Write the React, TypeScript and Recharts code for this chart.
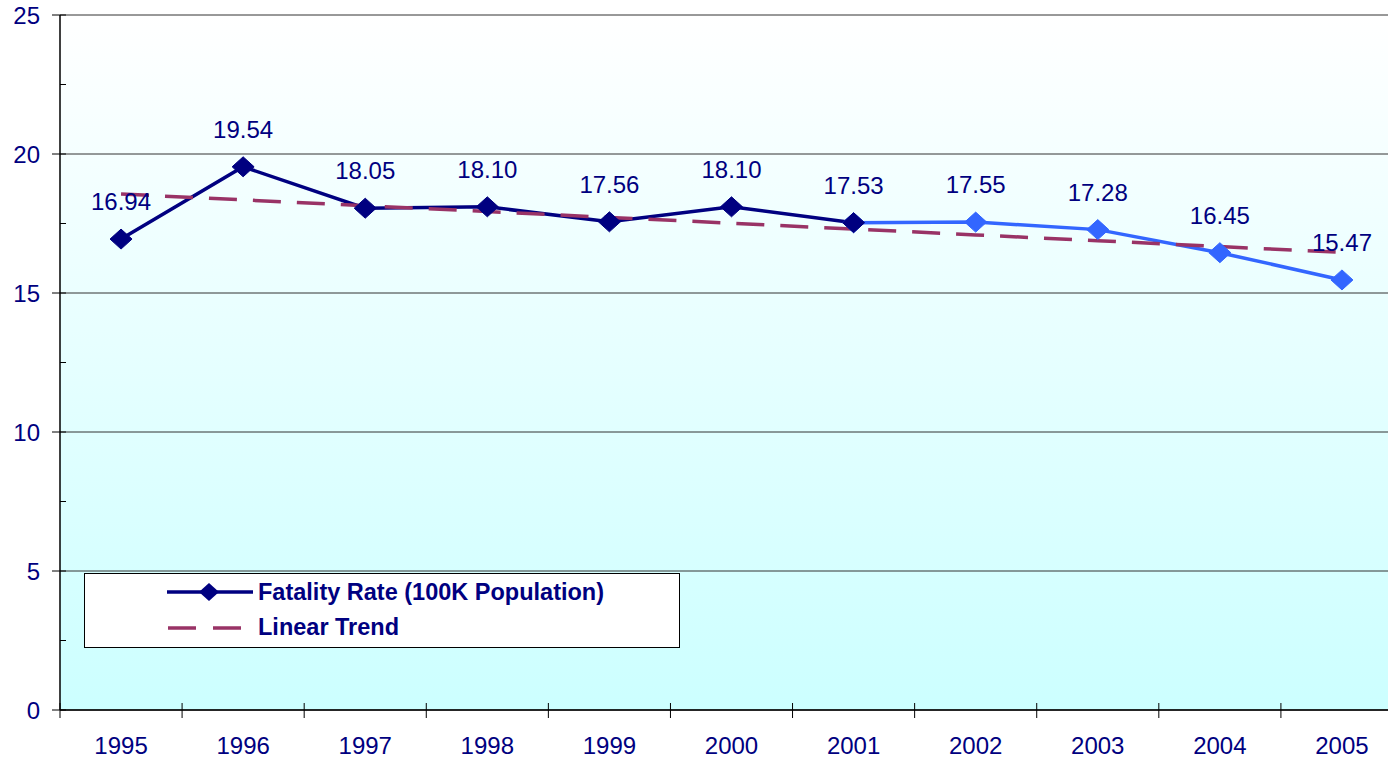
import React from 'react';
import { LineChart, Line, XAxis, YAxis, CartesianGrid, Legend, LabelList } from 'recharts';

const years = ['1995', '1996', '1997', '1998', '1999', '2000', '2001', '2002', '2003', '2004', '2005'];
const fatalityRate = [16.94, 19.54, 18.05, 18.1, 17.56, 18.1, 17.53, 17.55, 17.28, 16.45, 15.47];
const linearTrend = [18.56, 18.35, 18.14, 17.93, 17.72, 17.51, 17.3, 17.09, 16.88, 16.67, 16.46];
const splitYear = '2001';
const yMajorTicks = [0, 5, 10, 15, 20, 25];
const yMinorTicks = [2.5, 7.5, 12.5, 17.5, 22.5];

const NAVY = '#000080';
const LIGHT = '#3366FF';
const TREND = '#993366';
const FONT = '"Liberation Sans", Arial, sans-serif';

const splitIdx = years.indexOf(splitYear);
const data = years.map((year, i) => ({
  idx: i,
  year,
  rate: fatalityRate[i],
  early: i <= splitIdx ? fatalityRate[i] : null,
  late: i >= splitIdx ? fatalityRate[i] : null,
  trend: linearTrend[i],
}));

const xTicks: number[] = [];
years.forEach((_, i) => {
  xTicks.push(i - 0.5);
  xTicks.push(i);
});
xTicks.push(years.length - 0.5);

const yTicks = [...yMajorTicks, ...yMinorTicks].sort((a, b) => a - b);

const XTick = (props: any) => {
  const { x, y, payload } = props;
  const v = payload.value;
  if (Number.isInteger(v)) {
    return (
      <text x={x} y={y + 44} textAnchor="middle" fill={NAVY} fontSize={24} fontFamily={FONT}>
        {years[v]}
      </text>
    );
  }
  return <line x1={x} x2={x} y1={y - 7} y2={y + 8} stroke="#000" strokeWidth={1} />;
};

const YTick = (props: any) => {
  const { x, y, payload } = props;
  const v = payload.value;
  const major = yMajorTicks.includes(v);
  return (
    <g>
      <line x1={major ? x - 8 : x} x2={x + 6} y1={y} y2={y} stroke="#000" strokeWidth={1} />
      {major && (
        <text x={x - 20} y={y} dy="0.36em" textAnchor="end" fill={NAVY} fontSize={24} fontFamily={FONT}>
          {v}
        </text>
      )}
    </g>
  );
};

const diamond = (color: string) => (p: any) => {
  if (p.cx == null || p.cy == null || p.value == null) return <g key={p.key ?? p.index} />;
  const { cx, cy } = p;
  return (
    <path
      key={p.key ?? p.index}
      d={`M${cx},${cy - 10}L${cx + 11},${cy}L${cx},${cy + 10}L${cx - 11},${cy}Z`}
      fill={color}
      stroke={color}
      strokeWidth={1}
    />
  );
};

const renderLabel = (p: any) => (
  <text
    key={p.index}
    x={p.x}
    y={p.y - 29}
    textAnchor="middle"
    fill={NAVY}
    fontSize={24}
    fontFamily={FONT}
  >
    {Number(p.value).toFixed(2)}
  </text>
);

const LegendBox = () => (
  <div
    style={{
      width: 596,
      height: 75,
      boxSizing: 'border-box',
      border: '1px solid #000',
      background: '#fff',
    }}
  >
    <svg width={594} height={73} style={{ display: 'block' }}>
      <line x1={82} x2={168} y1={18} y2={18} stroke={NAVY} strokeWidth={3.5} />
      <path d="M124,9L134,18L124,27L114,18Z" fill={NAVY} />
      <text x={173} y={26} fill={NAVY} fontSize={23.5} fontWeight="bold" fontFamily={FONT}>
        Fatality Rate (100K Population)
      </text>
      <line x1={83} x2={157} y1={54} y2={54} stroke={TREND} strokeWidth={3.5} strokeDasharray="28 17" />
      <text x={173} y={61} fill={NAVY} fontSize={23.5} fontWeight="bold" fontFamily={FONT}>
        Linear Trend
      </text>
    </svg>
  </div>
);

export default function App() {
  return (
    <div style={{ position: 'absolute', left: 0, top: 0, width: 1388, height: 761, overflow: 'hidden' }}>
      <LineChart width={1403} height={761} data={data} margin={{ top: 15, right: 0, bottom: 0, left: 0 }}>
        <defs>
          <linearGradient id="bgGrad" x1="0" y1="0" x2="0" y2="1">
            <stop offset="0%" stopColor="#ffffff" />
            <stop offset="100%" stopColor="#ccffff" />
          </linearGradient>
        </defs>
        <CartesianGrid
          vertical={false}
          horizontalValues={yMajorTicks}
          stroke="#333"
          strokeWidth={1}
          fill="url(#bgGrad)"
          fillOpacity={1}
        />
        <XAxis
          dataKey="idx"
          type="number"
          domain={[-0.5, years.length - 0.5]}
          ticks={xTicks}
          interval={0}
          height={51}
          tickLine={false}
          tickSize={0}
          tickMargin={0}
          axisLine={{ stroke: '#000', strokeWidth: 1.5 }}
          tick={<XTick />}
        />
        <YAxis
          type="number"
          domain={[0, 25]}
          ticks={yTicks}
          interval={0}
          width={60}
          tickLine={false}
          tickSize={0}
          tickMargin={0}
          axisLine={{ stroke: '#000', strokeWidth: 1.5 }}
          tick={<YTick />}
        />
        <Legend
          verticalAlign="middle"
          align="center"
          layout="horizontal"
          wrapperStyle={{ position: 'absolute', left: 84, top: 573, width: 596, height: 75, right: 'auto', bottom: 'auto' }}
          content={() => <LegendBox />}
        />
        <Line
          dataKey="late"
          stroke={LIGHT}
          strokeWidth={3.5}
          dot={diamond(LIGHT)}
          activeDot={false}
          connectNulls={false}
          isAnimationActive={false}
          legendType="none"
        />
        <Line
          dataKey="early"
          stroke={NAVY}
          strokeWidth={3.5}
          dot={diamond(NAVY)}
          activeDot={false}
          connectNulls={false}
          isAnimationActive={false}
          legendType="none"
        />
        <Line
          dataKey="trend"
          stroke={TREND}
          strokeWidth={3.5}
          strokeDasharray="28 16"
          dot={false}
          activeDot={false}
          isAnimationActive={false}
          legendType="none"
        />
        <Line
          dataKey="rate"
          stroke="none"
          dot={false}
          activeDot={false}
          isAnimationActive={false}
          legendType="none"
        >
          <LabelList dataKey="rate" content={renderLabel} />
        </Line>
      </LineChart>
    </div>
  );
}
